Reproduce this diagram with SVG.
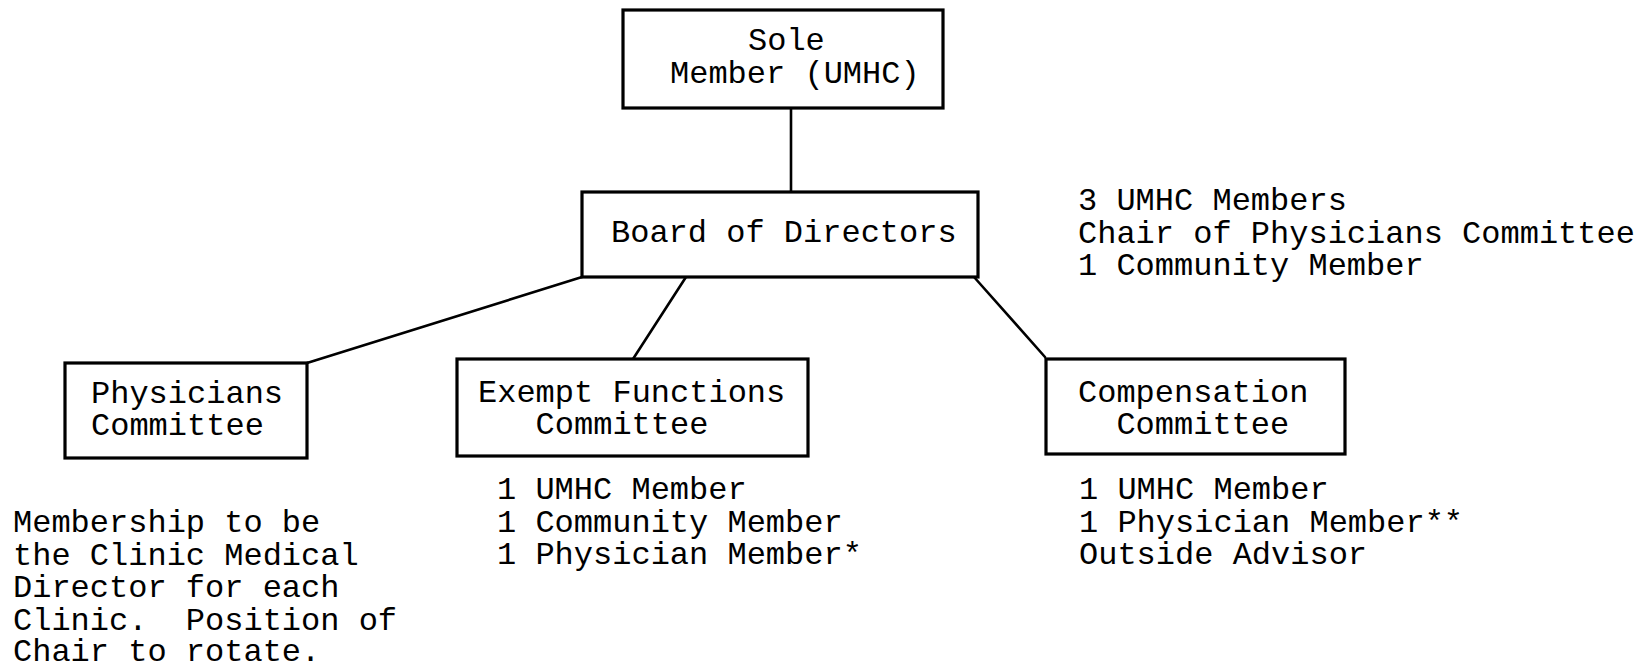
<svg xmlns="http://www.w3.org/2000/svg" width="1642" height="663" viewBox="0 0 1642 663">
  <style>
    .box { fill: #ffffff; stroke: #000000; stroke-width: 3.2; }
    .link { stroke: #000000; stroke-width: 2.6; fill: none; stroke-linecap: round; }
    text { font-family: "Liberation Mono", "DejaVu Sans Mono", monospace; font-size: 32px; fill: #000000; white-space: pre; }
  </style>
  <rect width="1642" height="663" fill="#ffffff"/>

  <!-- connectors -->
  <g id="connectors">
    <line class="link" x1="791" y1="108" x2="791" y2="192"/>
    <line class="link" x1="582" y1="277" x2="307" y2="363"/>
    <line class="link" x1="686" y1="277" x2="633" y2="359"/>
    <line class="link" x1="974" y1="277" x2="1045" y2="357"/>
  </g>

  <g id="sole-member">
    <rect class="box" x="623" y="10" width="320" height="98"/>
    <text x="748" y="50">Sole</text>
    <text x="670" y="83">Member (UMHC)</text>
  </g>

  <g id="board">
    <rect class="box" x="582" y="192" width="396" height="85"/>
    <text x="611" y="242">Board of Directors</text>
  </g>

  <g id="board-note">
    <text x="1078" y="210">3 UMHC Members</text>
    <text x="1078" y="242.5">Chair of Physicians Committee</text>
    <text x="1078" y="275">1 Community Member</text>
  </g>

  <g id="physicians">
    <rect class="box" x="65" y="363" width="242" height="95"/>
    <text x="91" y="403">Physicians</text>
    <text x="91" y="435">Committee</text>
  </g>

  <g id="physicians-note">
    <text x="13" y="532">Membership to be</text>
    <text x="13" y="564.5">the Clinic Medical</text>
    <text x="13" y="597">Director for each</text>
    <text x="13" y="629.5" xml:space="preserve">Clinic.  Position of</text>
    <text x="13" y="661">Chair to rotate.</text>
  </g>

  <g id="exempt">
    <rect class="box" x="457" y="359" width="351" height="97"/>
    <text x="478" y="402">Exempt Functions</text>
    <text x="535.6" y="434">Committee</text>
  </g>

  <g id="exempt-note">
    <text x="497" y="499">1 UMHC Member</text>
    <text x="497" y="531.5">1 Community Member</text>
    <text x="497" y="564">1 Physician Member*</text>
  </g>

  <g id="compensation">
    <rect class="box" x="1046" y="359" width="299" height="95"/>
    <text x="1078" y="402">Compensation</text>
    <text x="1116.4" y="434">Committee</text>
  </g>

  <g id="compensation-note">
    <text x="1079" y="499">1 UMHC Member</text>
    <text x="1079" y="531.5">1 Physician Member**</text>
    <text x="1079" y="564">Outside Advisor</text>
  </g>
</svg>
